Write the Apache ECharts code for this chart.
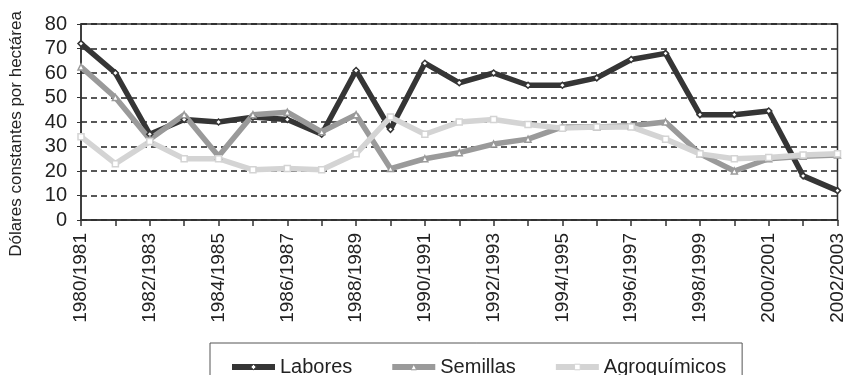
<!DOCTYPE html>
<html>
<head>
<meta charset="utf-8">
<script src="https://cdn.jsdelivr.net/npm/echarts@6/dist/echarts.min.js"></script>
<style>html,body{margin:0;padding:0;background:#fff}#c{width:847px;height:375px}</style>
</head>
<body>
<div id="c"></div>
<script>
const categories = ["1980/1981","1981/1982","1982/1983","1983/1984","1984/1985","1985/1986","1986/1987","1987/1988","1988/1989","1989/1990","1990/1991","1991/1992","1992/1993","1993/1994","1994/1995","1995/1996","1996/1997","1997/1998","1998/1999","1999/2000","2000/2001","2001/2002","2002/2003"];
const labores = [72,60,35,41,40,42,41,35,61,37,64,56,60,55,55,58,65.5,68,43,43,44.5,18,12];
const semillas = [62.5,50,33,43,26,43,44,36,43,21,25,27.5,31,33,38,38,38.5,40,27,20,25,26,26.5];
const agroquimicos = [34,23,32,25,25,20.5,21,20.5,27,42,35,40,41,39,37.5,38,38,33,27,25,25.5,26.5,27];
const yTicks = {min:0, max:80, interval:10};

const font = '"Liberation Sans", Arial, sans-serif';
const chart = echarts.init(document.getElementById('c'), null, {renderer:'canvas'});
function s(name, data, color, symbol){
  return {name, type:'line', data, symbol, symbolSize:6, showSymbol:true,
    lineStyle:{color, width:5.5}, itemStyle:{color:'#ffffff', borderColor:color, borderWidth:1.5},
    color, emphasis:{disabled:true}, z: 2};
}
chart.setOption({
  animation:false,
  textStyle:{fontFamily:font},
  grid:{left:79, right:9, top:24, bottom:155, show:true, borderColor:'#333', borderWidth:1.5, backgroundColor:'transparent'},
  legend:{left:210, top:343, padding:[14,16,14,19], itemGap:37, itemWidth:43, itemHeight:7,
    lineStyle:{width:6}, itemStyle:{borderWidth:1},
    borderColor:'#555', borderWidth:1, textStyle:{fontSize:20, color:'#222', fontFamily:font},
    data:['Labores','Semillas','Agroquímicos']},
  xAxis:{type:'category', data:categories, boundaryGap:false,
    axisLine:{lineStyle:{color:'#333', width:1.5}},
    axisTick:{show:true, interval:0, length:6, lineStyle:{color:'#333', width:1.5}},
    axisLabel:{interval:1, rotate:90, fontSize:19, color:'#222', margin:13, fontFamily:font},
    splitLine:{show:false}},
  yAxis:{type:'value', min:yTicks.min, max:yTicks.max, interval:yTicks.interval,
    name:'Dólares constantes por hectárea', nameLocation:'middle', nameRotate:90, nameGap:56,
    nameTextStyle:{fontSize:17, color:'#222', fontFamily:font, padding:[0,24,0,0]},
    axisLine:{show:true, lineStyle:{color:'#333', width:1.5}},
    axisTick:{show:true, length:4, lineStyle:{color:'#333'}},
    axisLabel:{fontSize:20, color:'#222', margin:14, fontFamily:font},
    splitLine:{show:true, lineStyle:{color:'#222', width:1.5, type:[6,4]}}},
  series:[
    s('Labores', labores, '#353535', 'diamond'),
    s('Semillas', semillas, '#9a9a9a', 'triangle'),
    s('Agroquímicos', agroquimicos, '#d4d4d4', 'rect')
  ]
});
</script>
</body>
</html>
